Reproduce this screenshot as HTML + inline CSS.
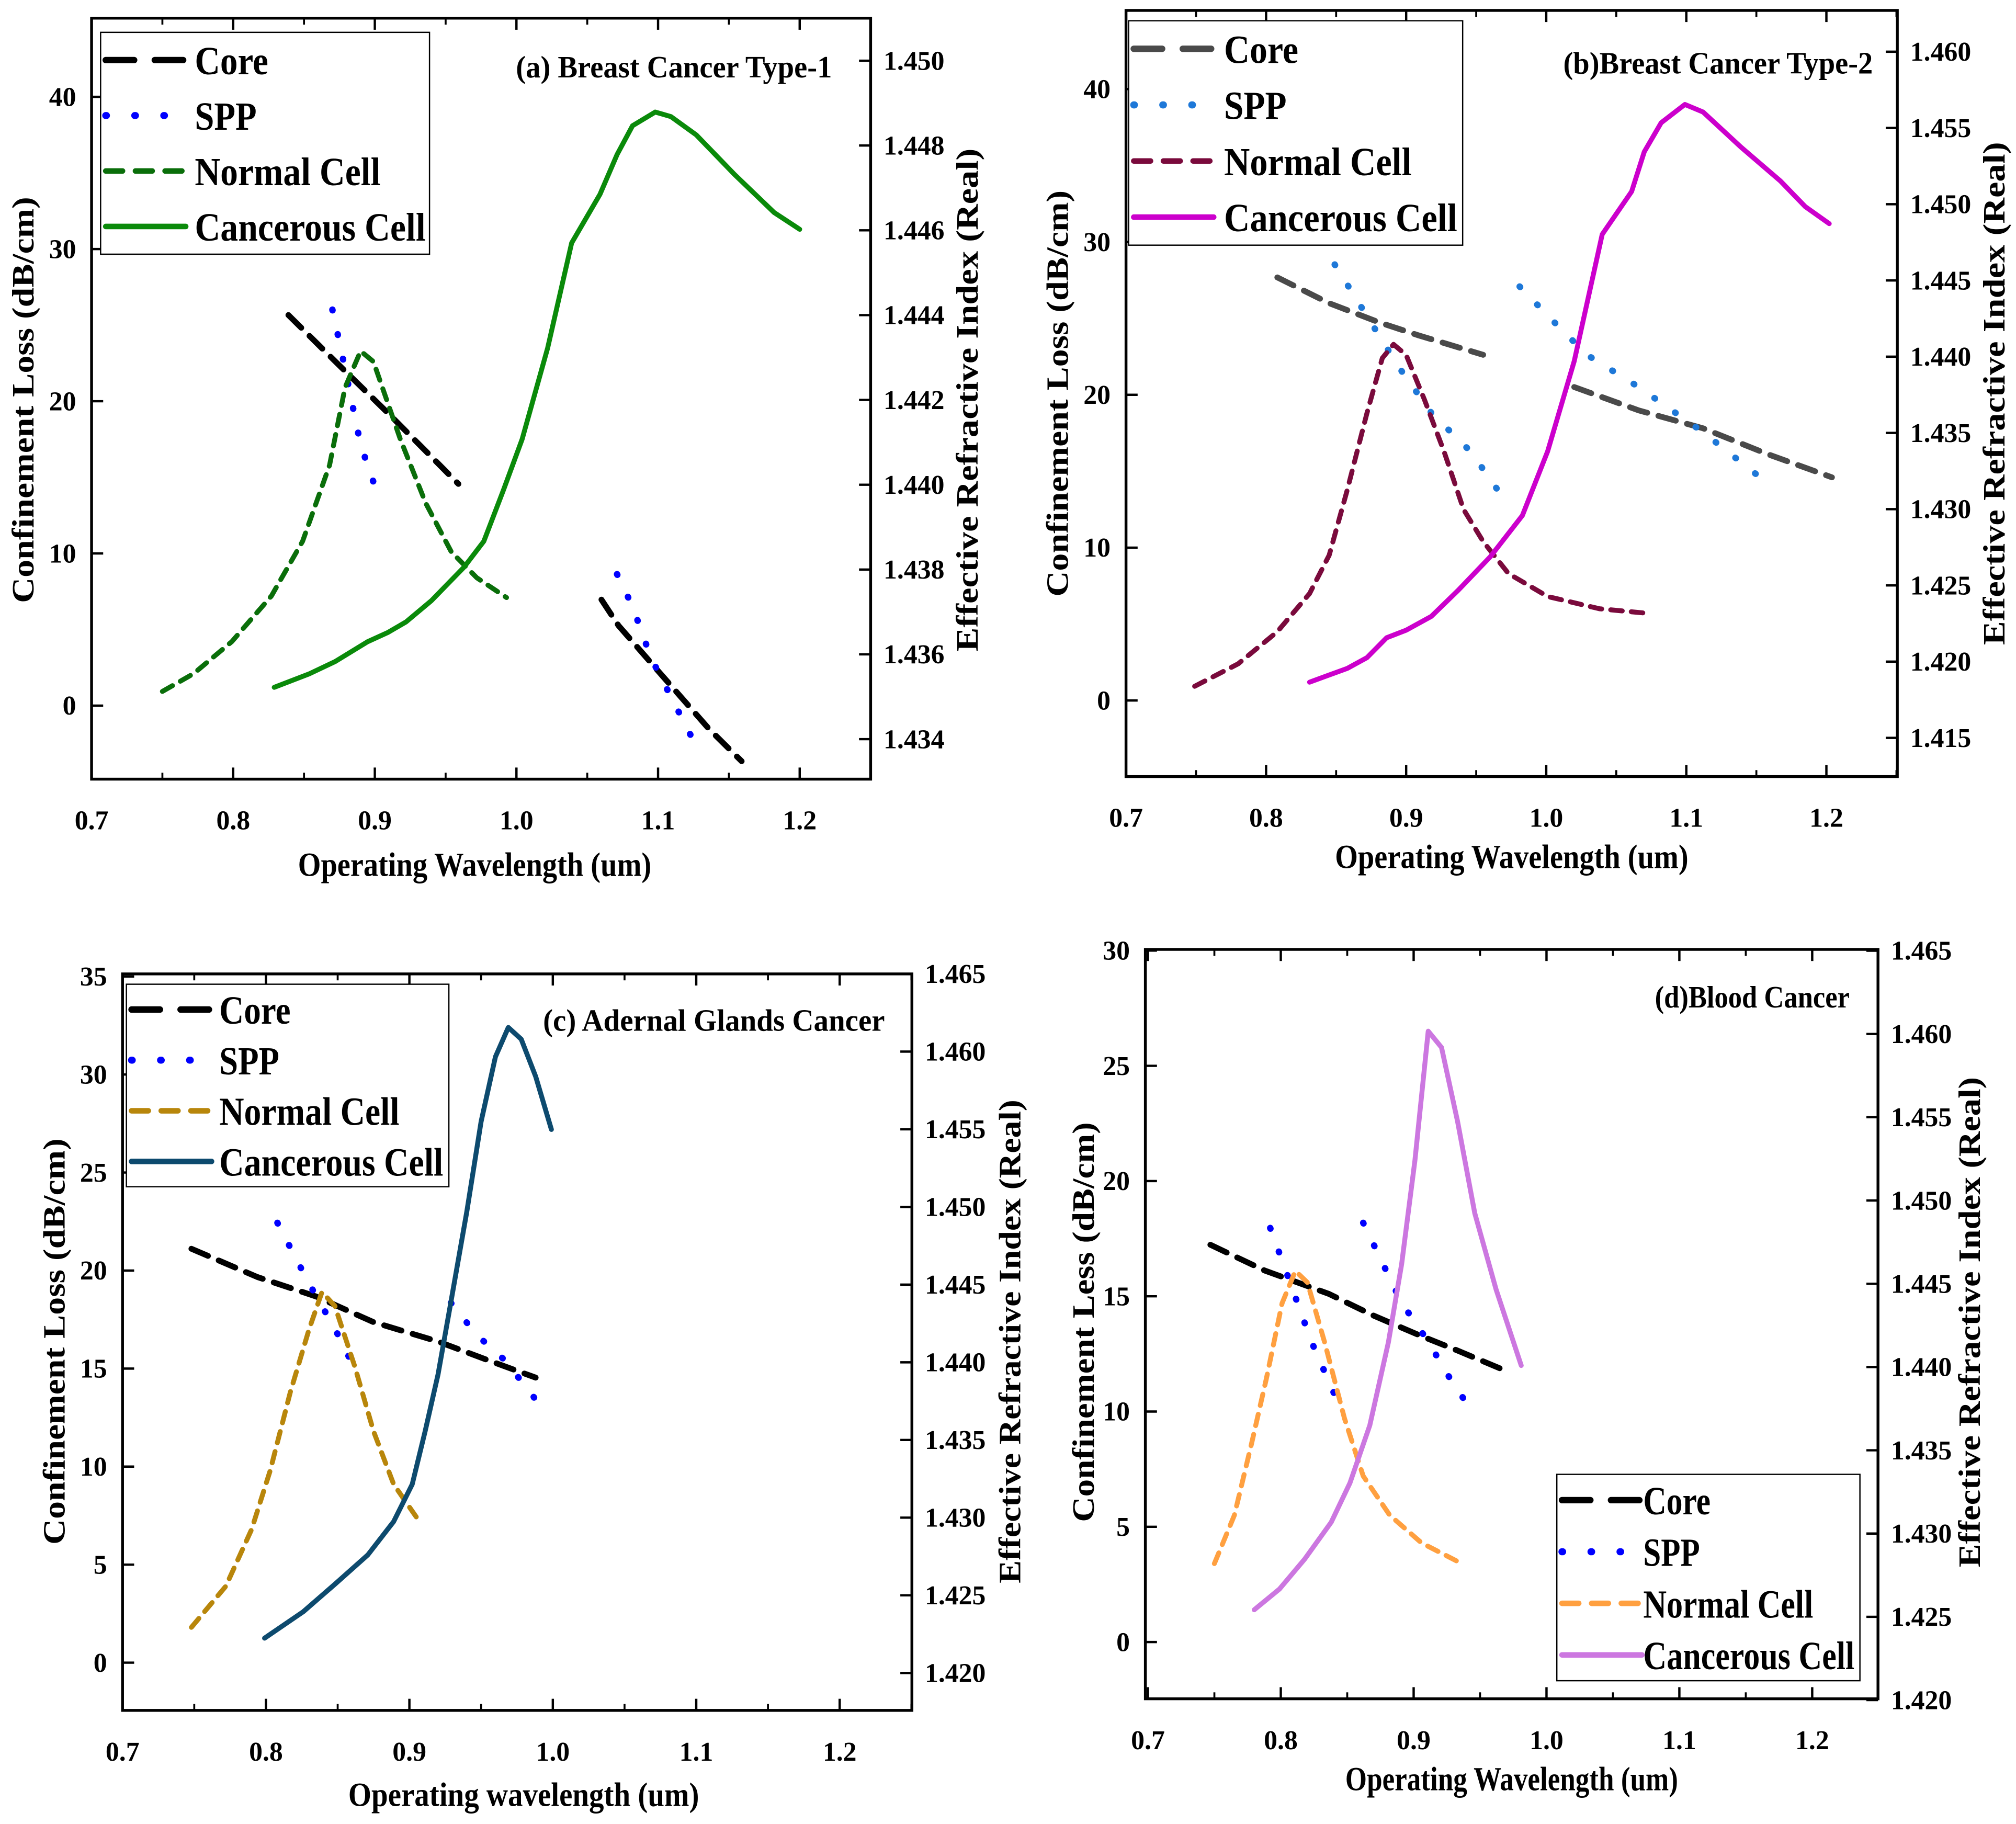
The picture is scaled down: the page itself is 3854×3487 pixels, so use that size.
<!DOCTYPE html>
<html><head><meta charset="utf-8"><style>
html,body{margin:0;padding:0;background:#fff}
svg{display:block}
text{font-family:"Liberation Serif",serif;font-weight:bold;fill:#000}
</style></head><body>
<svg id="chart" width="3854" height="3487" viewBox="0 0 1563 1414" xmlns="http://www.w3.org/2000/svg"></svg>
<script>
const xTicks=[0.7,0.8,0.9,1.0,1.1,1.2];
const xTickLabels=["0.7","0.8","0.9","1.0","1.1","1.2"];
// Panel a
const aCoreX=[0.839,0.872,0.909,0.959,null,1.060,1.072,1.100,1.136,1.159];
const aCoreY=[1.4440,1.44291,1.44170,1.44002,null,1.43729,1.43668,1.43561,1.43424,1.43348];
const aSppX=[0.870,0.877,0.890,0.901,null,1.071,1.082,1.095,1.123];
const aSppY=[1.44413,1.44306,1.44094,1.43987,null,1.43789,1.43713,1.43592,1.43409];
const aNormX=[0.750,0.772,0.799,0.827,0.849,0.868,0.879,0.890,0.899,0.918,0.936,0.954,0.972,0.993];
const aNormY=[0.93,2.1,4.2,7.2,10.8,15.8,20.9,23.3,22.6,17.5,13.3,10.1,8.4,7.1];
const aCancX=[0.829,0.854,0.872,0.895,0.909,0.922,0.940,0.963,0.977,0.991,1.004,1.022,1.039,1.059,1.071,1.082,1.098,1.109,1.127,1.154,1.182,1.200];
const aCancY=[1.2,2.1,2.9,4.2,4.8,5.5,6.9,9.1,10.8,14.2,17.5,23.5,30.4,33.6,36.2,38.1,39,38.7,37.5,34.9,32.4,31.3];
const aLeftTicks=[0,10,20,30,40];
const aRightTicks=[1.434,1.436,1.438,1.440,1.442,1.444,1.446,1.448,1.450];
// Panel b
const bCoreX=[0.808,0.845,0.881,0.909,0.955,null,1.020,1.066,1.112,1.158,1.204];
const bCoreY=[1.44520,1.44351,1.44224,1.44139,1.44012,null,1.43801,1.43648,1.43530,1.43361,1.43209];
const bSppX=[0.849,0.872,0.895,0.918,0.946,0.972,null,0.981,1.006,1.029,1.066,1.112,1.162];
const bSppY=[1.44604,1.44266,1.43928,1.43632,1.43378,1.43039,null,1.44460,1.44224,1.44012,1.43801,1.43505,1.43141];
const bNormX=[0.749,0.780,0.808,0.831,0.845,0.858,0.872,0.883,0.891,0.900,0.913,0.927,0.941,0.955,0.973,1.001,1.038,1.073];
const bNormY=[0.93,2.4,4.5,7.0,9.5,13.8,18.8,22.4,23.3,22.6,19.7,16.3,12.5,10.4,8.3,6.8,6.0,5.7];
const bCancX=[0.831,0.858,0.872,0.886,0.900,0.918,0.937,0.960,0.983,1.001,1.020,1.040,1.061,1.070,1.082,1.099,1.112,1.139,1.167,1.185,1.202];
const bCancY=[1.2,2.1,2.8,4.1,4.6,5.5,7.2,9.4,12.1,16.3,22.2,30.5,33.3,35.9,37.8,39,38.5,36.2,34.0,32.3,31.2];
const bLeftTicks=[0,10,20,30,40];
const bRightTicks=[1.415,1.420,1.425,1.430,1.435,1.440,1.445,1.450,1.455,1.460];
// Panel c
const cCoreX=[0.748,0.794,0.835,0.875,0.920,0.956,0.988];
const cCoreY=[1.44731,1.44549,1.44424,1.44258,1.44134,1.44009,1.43901];
const cSppX=[0.808,0.830,0.848,0.865,null,0.929,0.947,0.967,0.988];
const cSppY=[1.44898,1.44507,1.44217,1.43901,null,1.44383,1.44175,1.44009,1.43760];
const cNormX=[0.748,0.772,0.790,0.803,0.817,0.830,0.839,0.848,0.862,0.875,0.889,0.907];
const cNormY=[1.8,3.9,6.8,9.8,13.8,17.0,18.9,18.2,15.1,11.8,9.1,7.2];
const cCancX=[0.799,0.826,0.848,0.871,0.889,0.902,0.911,0.920,0.929,0.940,0.950,0.960,0.969,0.978,0.988,0.999];
const cCancY=[1.25,2.6,4.0,5.5,7.2,9.1,11.8,14.7,18.4,23.0,27.6,30.9,32.4,31.8,29.9,27.2];
const cLeftTicks=[0,5,10,15,20,25,30,35];
const cRightTicks=[1.420,1.425,1.430,1.435,1.440,1.445,1.450,1.455,1.460,1.465];
// Panel d
const dCoreX=[0.747,0.788,0.836,0.870,0.904,0.933,0.970];
const dCoreY=[1.44734,1.44579,1.44440,1.44308,1.44192,1.44099,1.43975];
const dSppX=[0.792,0.809,0.823,0.840,null,0.862,0.877,0.891,0.911,0.925,0.940];
const dSppY=[1.44835,1.44463,1.44153,1.43843,null,1.44866,1.44618,1.44385,1.44153,1.43960,1.43781];
const dNormX=[0.750,0.765,0.778,0.789,0.801,0.811,0.820,0.833,0.848,0.862,0.882,0.906,0.933];
const dNormY=[3.4,5.5,8.6,11.4,14.7,16.1,15.6,13.0,9.7,7.2,5.5,4.3,3.5];
const dCancX=[0.780,0.799,0.818,0.838,0.852,0.867,0.881,0.891,0.901,0.911,0.921,0.933,0.946,0.962,0.981];
const dCancY=[1.4,2.3,3.6,5.2,6.9,9.4,13.0,16.4,20.9,26.5,25.8,22.6,18.6,15.3,12.0];
const dLeftTicks=[0,5,10,15,20,25,30];
const dRightTicks=[1.420,1.425,1.430,1.435,1.440,1.445,1.450,1.455,1.460,1.465];

const NS="http://www.w3.org/2000/svg";
const svg=document.getElementById('chart');
function el(tag,attrs,parent,txt){const e=document.createElementNS(NS,tag);for(const k in attrs)e.setAttribute(k,attrs[k]);if(txt!==undefined)e.textContent=txt;(parent||svg).appendChild(e);return e;}
function fit(t,len){t.setAttribute('textLength',len);t.setAttribute('lengthAdjust','spacingAndGlyphs');}

const STY={
 core:{dash:"14,9",w:4.5},
 spp:{dash:"0.5,19",w:5},
 norm:{dash:"9,7",w:3.8},
 canc:{dash:"",w:3.8}
};
const LEGLEN=[57,48,144,179];

function panel(p){
  const g=el('g',{},svg);
  
  
  const X=v=>p.x07+(v-0.7)*p.kx;
  const YL=v=>p.yl0px+(v-p.yl0)*p.kyl;
  const YR=v=>p.yr0px+(v-p.yr0)*p.kyr;
  const fr=el('rect',{x:p.L,y:p.T,width:p.R-p.L,height:p.B-p.T,fill:'none',stroke:'#000','stroke-width':2.2},g);
  
  
  xTicks.forEach((v,i)=>{
    const x=X(v);
    el('line',{x1:x,x2:x,y1:p.B,y2:p.B-9,stroke:'#000','stroke-width':1.8},g);
    el('line',{x1:x,x2:x,y1:p.T,y2:p.T+9,stroke:'#000','stroke-width':1.8},g);
    const xm=X(v+0.05);
    if(xm<p.R){el('line',{x1:xm,x2:xm,y1:p.B,y2:p.B-5,stroke:'#000','stroke-width':1.5},g);el('line',{x1:xm,x2:xm,y1:p.T,y2:p.T+5,stroke:'#000','stroke-width':1.5},g);}
    const t=el('text',{x:x,y:p.B+39,'text-anchor':'middle','font-size':21},g,xTickLabels[i]);
    
    
  });
  p.lt.forEach(v=>{
    const y=YL(v);
    el('line',{x1:p.L,x2:p.L+9,y1:y,y2:y,stroke:'#000','stroke-width':1.8},g);
    const t=el('text',{x:p.L-12,y:y+7,'text-anchor':'end','font-size':21},g,String(v));
    
    
  });
  p.rt.forEach(v=>{
    const y=YR(v);
    el('line',{x1:p.R,x2:p.R-9,y1:y,y2:y,stroke:'#000','stroke-width':1.8},g);
    const t=el('text',{x:p.R+10,y:y+7,'text-anchor':'start','font-size':21},g,v.toFixed(3));
    
    
  });
  p.series.forEach(s=>{
    const st=STY[s.kind];
    const ymap=s.axis==='R'?YR:YL;
    let d='',pen=false;
    for(let i=0;i<s.x.length;i++){
      if(s.x[i]===null||s.y[i]===null){pen=false;continue;}
      d+=(pen?'L':'M')+X(s.x[i]).toFixed(1)+','+ymap(s.y[i]).toFixed(1);pen=true;
    }
    const path=el('path',{d:d,fill:'none',stroke:s.color,'stroke-width':st.w,'stroke-dasharray':st.dash,'stroke-linecap':'round','stroke-linejoin':'round'},g);
    
    
  });
  const lg=el('g',{},g);
  
  
  el('rect',{x:p.lg[0],y:p.lg[1],width:p.lg[2],height:p.lg[3],fill:'#fff',stroke:'#000','stroke-width':1},lg);
  const names=['Core','SPP','Normal Cell','Cancerous Cell'];
  const rowH=p.lg[3]/4;
  p.series.forEach((s,i)=>{
    const st=STY[s.kind];
    const y=p.lg[1]+rowH*(i+0.5);
    const x0=p.lg[0]+4;
    el('line',{x1:x0,x2:x0+62,y1:y,y2:y,stroke:s.color,'stroke-width':st.w+0.5,'stroke-dasharray':s.kind==='core'?'22,16':(s.kind==='spp'?'0.5,22':(s.kind==='norm'?'13,10':'')),'stroke-linecap':'round'},lg);
    const t=el('text',{x:x0+p.lgx,y:y+11,'font-size':31},lg,names[i]);
    fit(t,LEGLEN[i]*p.lgs);
    
    
  });
  const tt=el('text',{x:p.title[0]-p.title[3],y:p.title[1],'font-size':24},g,p.title[2]);
  fit(tt,p.title[3]);
  
  
  const xl=el('text',{x:p.xl[0]-p.xl[3]/2,y:p.xl[1],'font-size':26},g,p.xl[2]);
  fit(xl,p.xl[3]);
  
  
  const yl=el('text',{x:-p.yll/2,y:0,'font-size':24,transform:`translate(${p.ylx},${p.yc}) rotate(-90)`},g,p.ylt);
  fit(yl,p.yll);
  
  
  const yr=el('text',{x:-p.yrl/2,y:0,'font-size':24,transform:`translate(${p.yrx},${p.yc}) rotate(-90)`},g,'Effective Refractive Index (Real)');
  fit(yr,p.yrl);
  
  
}

panel({id:'a',L:71,R:675,T:14,B:604,x07:71,kx:1098,yl0:0,yl0px:547,kyl:-11.8,yr0:1.434,yr0px:573,kyr:-32875,
 lt:aLeftTicks,rt:aRightTicks,lg:[78,25,255,172],lgx:69,lgs:1,title:[645,60,'(a) Breast Cancer Type-1',245],
 xl:[368,679,'Operating Wavelength (um)',274],ylx:26,yrx:758,yc:310,yll:315,yrl:390,ylt:'Confinement Loss (dB/cm)',
 series:[{kind:'core',axis:'R',color:'#000',x:aCoreX,y:aCoreY},{kind:'spp',axis:'R',color:'#0000ff',x:aSppX,y:aSppY},
 {kind:'norm',axis:'L',color:'#0a6e0a',x:aNormX,y:aNormY},{kind:'canc',axis:'L',color:'#0a8a0a',x:aCancX,y:aCancY}]});
panel({id:'b',L:873,R:1471,T:8,B:602,x07:873,kx:1086,yl0:0,yl0px:543,kyl:-11.85,yr0:1.415,yr0px:572,kyr:-11822,
 lt:bLeftTicks,rt:bRightTicks,lg:[875,16,259,174],lgx:70,lgs:1.01,title:[1452,57,'(b)Breast Cancer Type-2',240],
 xl:[1172,673,'Operating Wavelength (um)',274],ylx:828,yrx:1554,yc:305,yll:315,yrl:390,ylt:'Confinement Loss (dB/cm)',
 series:[{kind:'core',axis:'R',color:'#4a4a4a',x:bCoreX,y:bCoreY},{kind:'spp',axis:'R',color:'#1e78d8',x:bSppX,y:bSppY},
 {kind:'norm',axis:'L',color:'#7a0a3c',x:bNormX,y:bNormY},{kind:'canc',axis:'L',color:'#cc00cc',x:bCancX,y:bCancY}]});
panel({id:'c',L:95,R:707,T:755,B:1326,x07:95,kx:1112,yl0:0,yl0px:1289,kyl:-15.2,yr0:1.420,yr0px:1297,kyr:-12044,
 lt:cLeftTicks,rt:cRightTicks,lg:[98,763,250,157],lgx:68,lgs:0.97,title:[686,799,'(c) Adernal Glands Cancer',265],
 xl:[406,1400,'Operating wavelength (um)',272],ylx:50,yrx:791,yc:1040,yll:315,yrl:375,ylt:'Confinement Loss (dB/cm)',
 series:[{kind:'core',axis:'R',color:'#000',x:cCoreX,y:cCoreY},{kind:'spp',axis:'R',color:'#0000ff',x:cSppX,y:cSppY},
 {kind:'norm',axis:'L',color:'#b8860b',x:cNormX,y:cNormY},{kind:'canc',axis:'L',color:'#0d4a6e',x:cCancX,y:cCancY}]});
panel({id:'d',L:888,R:1456,T:736,B:1317,x07:890,kx:1030,yl0:0,yl0px:1273,kyl:-17.87,yr0:1.420,yr0px:1318,kyr:-12911,
 lt:dLeftTicks,rt:dRightTicks,lg:[1207,1143,235,160],lgx:63,lgs:0.915,title:[1434,781,'(d)Blood Cancer',151],
 xl:[1172,1388,'Operating Wavelength (um)',258],ylx:848,yrx:1535,yc:1025,yll:310,yrl:380,ylt:'Confinement Less (dB/cm)',
 series:[{kind:'core',axis:'R',color:'#000',x:dCoreX,y:dCoreY},{kind:'spp',axis:'R',color:'#0000ff',x:dSppX,y:dSppY},
 {kind:'norm',axis:'L',color:'#ffa040',x:dNormX,y:dNormY},{kind:'canc',axis:'L',color:'#cc77e0',x:dCancX,y:dCancY}]});
</script>
</body></html>
